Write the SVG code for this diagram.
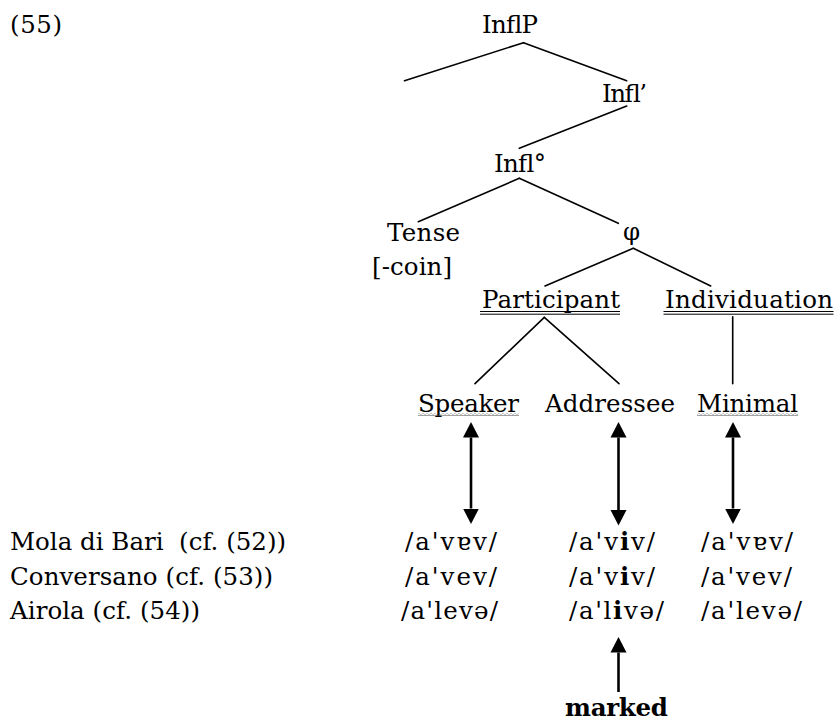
<svg xmlns="http://www.w3.org/2000/svg" width="836" height="724" viewBox="0 0 836 724">
<style>
text{font-family:"DejaVu Serif","Liberation Serif",serif;font-size:24.5px;fill:#000;white-space:pre}
.b{font-weight:bold}
.edge{stroke:#000;stroke-width:1.6;fill:none;stroke-linecap:round}
.arr{stroke:#000;stroke-width:2.6;fill:none}
.ul{stroke:#000;stroke-width:1}
</style>
<defs>
<marker id="head" markerUnits="userSpaceOnUse" markerWidth="16" markerHeight="18" viewBox="0 -9 16 18" refX="0" refY="0" orient="auto-start-reverse">
<path d="M0,-8 L15.5,0 L0,8 Z" fill="#000"/>
</marker>
<pattern id="wave" width="4" height="3" patternUnits="userSpaceOnUse">
<path d="M0,1.5 Q1,0 2,1.5 T4,1.5" stroke="#444" stroke-width="0.8" fill="none"/>
</pattern>
</defs>
<rect width="836" height="724" fill="#fff"/>
<text id="ex" x="10" y="33" textLength="52">(55)</text>
<g id="connectors">
<line class="edge" x1="523.5" y1="42.7" x2="404.5" y2="80.7"/>
<line class="edge" x1="523.5" y1="42.7" x2="626.7" y2="80.7"/>
<line class="edge" x1="626.7" y1="106" x2="519.3" y2="148.3"/>
<line class="edge" x1="519.3" y1="178.3" x2="418.3" y2="221.7"/>
<line class="edge" x1="519.3" y1="178.3" x2="618.3" y2="223.3"/>
<line class="edge" x1="633.3" y1="248.3" x2="545" y2="286"/>
<line class="edge" x1="633.3" y1="248.3" x2="710.7" y2="286"/>
<line class="edge" x1="544.3" y1="317.3" x2="475" y2="383.7"/>
<line class="edge" x1="544.3" y1="317.3" x2="619" y2="383.7"/>
<line class="edge" x1="732.7" y1="316.7" x2="732.7" y2="383.7"/>
<line class="arr" x1="471" y1="437.5" x2="471" y2="508.5" marker-start="url(#head)" marker-end="url(#head)"/>
<line class="arr" x1="618.5" y1="437.5" x2="618.5" y2="510" marker-start="url(#head)" marker-end="url(#head)"/>
<line class="arr" x1="733" y1="437.5" x2="733" y2="508.5" marker-start="url(#head)" marker-end="url(#head)"/>
<line class="arr" x1="618.5" y1="692" x2="618.5" y2="652.5" marker-end="url(#head)"/>
</g>
<g id="InflP"><text x="482" y="33" textLength="56">InflP</text></g>
<g id="InflBar"><text x="602" y="102" textLength="45">Infl’</text></g>
<g id="InflHead"><text x="494" y="172" textLength="52">Infl°</text></g>
<g id="Tense"><text x="387" y="241" textLength="73">Tense</text><text x="372" y="275" textLength="80">[-coin]</text></g>
<g id="phi"><text x="623" y="240" textLength="19">φ</text></g>
<g id="Participant"><text x="482" y="308" textLength="138">Participant</text>
<line class="ul" x1="480" y1="311.5" x2="620" y2="311.5"/><line class="ul" x1="480" y1="314.2" x2="620" y2="314.2"/></g>
<g id="Individuation"><text x="665" y="308" textLength="168">Individuation</text>
<line class="ul" x1="663.5" y1="311.5" x2="833.5" y2="311.5"/><line class="ul" x1="663.5" y1="314.2" x2="833.5" y2="314.2"/></g>
<g id="Speaker"><text x="418" y="412" textLength="101">Speaker</text><rect x="418" y="413" width="101" height="3" fill="url(#wave)"/></g>
<g id="Addressee"><text x="545" y="412" textLength="130">Addressee</text></g>
<g id="Minimal"><text x="697" y="412" textLength="101">Minimal</text><rect x="697" y="413" width="101" height="3" fill="url(#wave)"/></g>
<g id="rows">
<text x="10" y="550">Mola di Bari  (cf. (52))</text>
<text x="10" y="585" textLength="263">Conversano (cf. (53))</text>
<text x="10" y="619" textLength="190">Airola (cf. (54))</text>
<text x="405" y="550" textLength="92">/a'vɐv/</text>
<text x="405" y="585" textLength="92">/a'vev/</text>
<text x="401" y="619" textLength="97">/a'levə/</text>
<text x="569" y="550" textLength="86">/a'v<tspan class="b">i</tspan>v/</text>
<text x="569" y="585" textLength="86">/a'v<tspan class="b">i</tspan>v/</text>
<text x="569" y="619" textLength="95">/a'l<tspan class="b">i</tspan>və/</text>
<text x="701" y="550" textLength="92">/a'vɐv/</text>
<text x="701" y="585" textLength="91">/a'vev/</text>
<text x="701" y="619" textLength="101">/a'levə/</text>
</g>
<g id="marked"><text class="b" x="565" y="716" textLength="103">marked</text></g>
</svg>
